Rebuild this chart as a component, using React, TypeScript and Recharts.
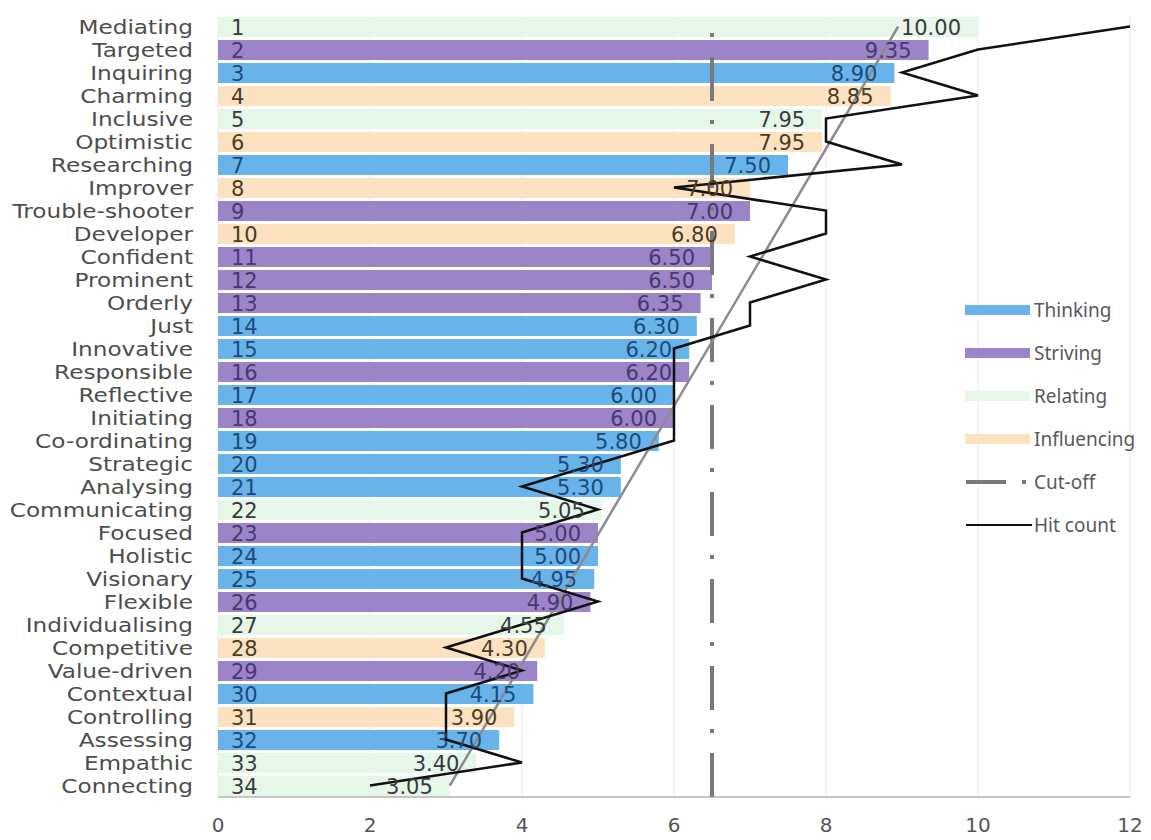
import {
  ComposedChart,
  Bar,
  Line,
  XAxis,
  YAxis,
  CartesianGrid,
  ReferenceLine,
  LabelList,
  Cell,
  Legend,
} from "recharts";

const strengths = [
  "Mediating", "Targeted", "Inquiring", "Charming", "Inclusive", "Optimistic",
  "Researching", "Improver", "Trouble-shooter", "Developer", "Confident",
  "Prominent", "Orderly", "Just", "Innovative", "Responsible", "Reflective",
  "Initiating", "Co-ordinating", "Strategic", "Analysing", "Communicating",
  "Focused", "Holistic", "Visionary", "Flexible", "Individualising",
  "Competitive", "Value-driven", "Contextual", "Controlling", "Assessing",
  "Empathic", "Connecting",
];

const scores = [
  10.0, 9.35, 8.9, 8.85, 7.95, 7.95, 7.5, 7.0, 7.0, 6.8, 6.5, 6.5, 6.35, 6.3,
  6.2, 6.2, 6.0, 6.0, 5.8, 5.3, 5.3, 5.05, 5.0, 5.0, 4.95, 4.9, 4.55, 4.3, 4.2,
  4.15, 3.9, 3.7, 3.4, 3.05,
];

const groups = [
  "Relating", "Striving", "Thinking", "Influencing", "Relating", "Influencing",
  "Thinking", "Influencing", "Striving", "Influencing", "Striving", "Striving",
  "Striving", "Thinking", "Thinking", "Striving", "Thinking", "Striving",
  "Thinking", "Thinking", "Thinking", "Relating", "Striving", "Thinking",
  "Thinking", "Striving", "Relating", "Influencing", "Striving", "Thinking",
  "Influencing", "Thinking", "Relating", "Relating",
];

const hitCounts = [
  12, 10, 9, 10, 8, 8, 9, 6, 8, 8, 7, 8, 7, 7, 6, 6, 6, 6, 6, 5, 4, 5, 4, 4, 4,
  5, 4, 3, 4, 3, 3, 3, 4, 2,
];

// straight fit through the hit counts: value at rank 1 and at rank 34
const trendStart = 8.95;
const trendEnd = 3.05;

const cutOff = 6.5;
const xTicks = [0, 2, 4, 6, 8, 10, 12];
const legendGroups = ["Thinking", "Striving", "Relating", "Influencing"];

const groupFill: Record<string, string> = {
  Thinking: "#68b3e9",
  Striving: "#9b84c7",
  Relating: "#e6f7ea",
  Influencing: "#fde2c2",
};

const groupInk: Record<string, string> = {
  Thinking: "#1d4b7a",
  Striving: "#4a3870",
  Relating: "#3a3a3a",
  Influencing: "#4a3d24",
};

const data = strengths.map((name, i) => ({
  name,
  rank: i + 1,
  score: scores[i],
  group: groups[i],
  hits: hitCounts[i],
  trend: i === 0 ? trendStart : i === strengths.length - 1 ? trendEnd : null,
}));

function StrengthTick({ x, y, payload }: any) {
  return (
    <text
      transform={`translate(${x},${y}) scale(1.16,1)`}
      textAnchor="end"
      dy="0.35em"
      fontSize={20}
      fontFamily="DejaVu Sans"
      fill="#4d4d4d"
    >
      {payload.value}
    </text>
  );
}

function BarLabels(props: any) {
  const { x, y, width, height, index } = props;
  const row = data[index];
  if (!row) return null;
  const cy = y + height / 2;
  return (
    <g fontFamily="DejaVu Sans" fontSize={21} fill={groupInk[row.group]}>
      <text x={x + 13} y={cy} dy="0.36em">
        {row.rank}
      </text>
      <text x={x + width - 17} y={cy} dy="0.36em" textAnchor="end">
        {row.score.toFixed(2)}
      </text>
    </g>
  );
}

function KeyBox() {
  const step = 43;
  const label = (i: number, text: string) => (
    <text x={76} y={20 + i * step} dy="0.35em" fontSize={19} fill="#595959" fontFamily="Noto Sans">
      {text}
    </text>
  );
  return (
    <svg width={190} height={260}>
      {legendGroups.map((g, i) => (
        <g key={g}>
          <rect x={7} y={15 + i * step} width={65} height={10} fill={groupFill[g]} />
          {label(i, g)}
        </g>
      ))}
      <line x1={8} x2={48} y1={20 + 4 * step} y2={20 + 4 * step} stroke="#7a7a7a" strokeWidth={4} />
      <line x1={64} x2={68} y1={20 + 4 * step} y2={20 + 4 * step} stroke="#7a7a7a" strokeWidth={4} />
      {label(4, "Cut-off")}
      <line x1={8} x2={74} y1={20 + 5 * step} y2={20 + 5 * step} stroke="#111" strokeWidth={2} />
      {label(5, "Hit count")}
    </svg>
  );
}

export default function App() {
  return (
    <div style={{ position: "absolute", left: 0, top: 0, background: "#fff" }}>
      <ComposedChart
        width={1151}
        height={840}
        data={data}
        layout="vertical"
        margin={{ top: 15, right: 21, bottom: 0, left: 0 }}
        barSize={20}
      >
        <CartesianGrid horizontal={false} stroke="#ececec" />
        <XAxis
          type="number"
          domain={[0, 12]}
          ticks={xTicks}
          height={43}
          tickLine={false}
          tickSize={0}
          tickMargin={21}
          axisLine={{ stroke: "#8c8c8c" }}
          tick={{ fontSize: 20, fill: "#555", fontFamily: "DejaVu Sans" }}
        />
        <YAxis
          type="category"
          dataKey="name"
          width={218}
          interval={0}
          tickLine={false}
          tickSize={0}
          tickMargin={25}
          axisLine={false}
          tick={<StrengthTick />}
        />
        <Bar dataKey="score" isAnimationActive={false}>
          {data.map((d) => (
            <Cell key={d.name} fill={groupFill[d.group]} />
          ))}
          <LabelList dataKey="score" content={<BarLabels />} />
        </Bar>
        <ReferenceLine
          x={cutOff}
          stroke="#7a7a7a"
          strokeWidth={4}
          strokeDasharray="44 20 4 19"
        />
        <Line
          dataKey="trend"
          connectNulls
          stroke="#8c8c8c"
          strokeWidth={2.5}
          dot={false}
          isAnimationActive={false}
        />
        <Line
          dataKey="hits"
          type="linear"
          stroke="#111"
          strokeWidth={2.5}
          dot={false}
          isAnimationActive={false}
        />
        <Legend
          layout="horizontal"
          align="center"
          verticalAlign="middle"
          content={<KeyBox />}
          wrapperStyle={{ position: "absolute", left: 958, top: 290, width: 190 }}
        />
      </ComposedChart>
    </div>
  );
}
